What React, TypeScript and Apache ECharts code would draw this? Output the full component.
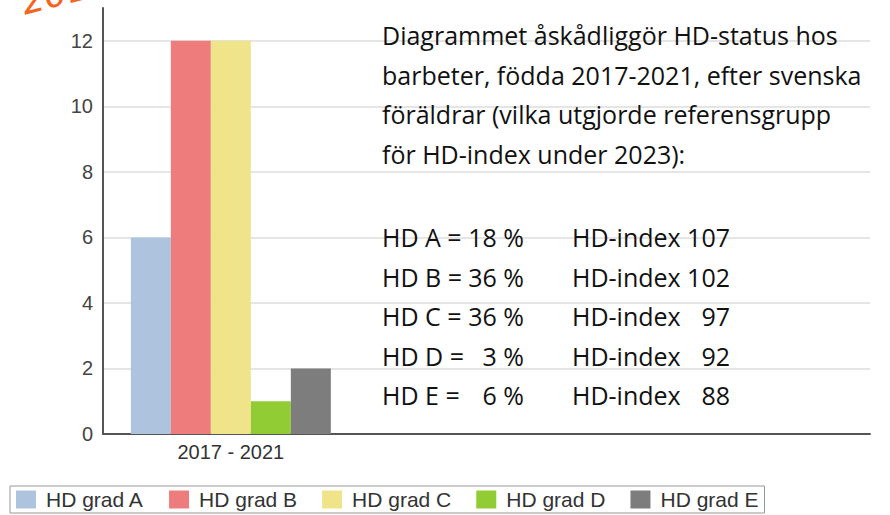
import React, { useEffect, useRef } from "react";
import * as echarts from "echarts";

const categories = ["2017 - 2021", "", ""];
const seriesNames = ["HD grad A", "HD grad B", "HD grad C", "HD grad D", "HD grad E"];
const seriesValues = [6, 12, 12, 1, 2];
const seriesColors = ["#aec3de", "#ee7c7c", "#f0e48a", "#92cc34", "#7d7d7d"];
const yTicks = { min: 0, max: 13, interval: 2 };

const descriptionLines = [
  "Diagrammet åskådliggör HD-status hos",
  "barbeter, födda 2017-2021, efter svenska",
  "föräldrar (vilka utgjorde referensgrupp",
  "för HD-index under 2023):",
];
const gradeLabels = ["HD A =", "HD B =", "HD C =", "HD D =", "HD E ="];
const gradePercents = ["18 %", "36 %", "36 %", "3 %", "6 %"];
const indexLabel = "HD-index";
const indexValues = ["107", "102", "97", "92", "88"];

export default function App() {
  const ref = useRef<HTMLDivElement>(null);
  useEffect(() => {
    if (!ref.current) return;
    const chart = echarts.init(ref.current, null, { renderer: "svg" });
    const textFont = "'Open Sans', sans-serif";
    const fs = 25;
    const font = `${fs}px ${textFont}`;
    const graphics: any[] = [];
    descriptionLines.forEach((t, i) => {
      graphics.push({
        type: "text",
        x: 382,
        y: 35 + i * 39.5,
        z: 10,
        style: { text: t, fill: "#111", font, verticalAlign: "middle" },
      });
    });
    gradeLabels.forEach((t, i) => {
      const y = 237 + i * 39.5;
      graphics.push({
        type: "text",
        x: 382,
        y,
        z: 10,
        style: { text: t, fill: "#111", font, verticalAlign: "middle", align: "left" },
      });
      graphics.push({
        type: "text",
        x: 524,
        y,
        z: 10,
        style: { text: gradePercents[i], fill: "#111", font, verticalAlign: "middle", align: "right" },
      });
      graphics.push({
        type: "text",
        x: 572,
        y,
        z: 10,
        style: { text: indexLabel, fill: "#111", font, verticalAlign: "middle", align: "left" },
      });
      graphics.push({
        type: "text",
        x: 730,
        y,
        z: 10,
        style: { text: indexValues[i], fill: "#111", font, verticalAlign: "middle", align: "right" },
      });
    });
    graphics.push({
      type: "text",
      x: 26,
      y: 20,
      rotation: 0.25,
      z: 10,
      style: {
        text: "2017",
        fill: "#f4641e",
        font: "italic 36px 'DejaVu Sans', sans-serif",
        verticalAlign: "bottom",
      },
    });

    chart.setOption({
      animation: false,
      backgroundColor: "#ffffff",
      grid: { left: 103, right: 20, top: 8, bottom: 515 - 434 },
      xAxis: {
        type: "category",
        data: categories,
        axisLine: { show: true, lineStyle: { color: "#555", width: 2 } },
        axisTick: { show: false },
        axisLabel: { color: "#333", fontSize: 20, fontFamily: "'Liberation Sans', Arial, sans-serif", margin: 8 },
      },
      yAxis: {
        type: "value",
        min: yTicks.min,
        max: yTicks.max,
        interval: yTicks.interval,
        axisLine: { show: true, lineStyle: { color: "#555", width: 2 } },
        axisTick: { show: false },
        axisLabel: {
          color: "#444",
          fontSize: 20,
          fontFamily: "'Liberation Sans', Arial, sans-serif",
          margin: 10,
          showMaxLabel: false,
        },
        splitLine: { show: true, showMaxLine: false, showMinLine: false, lineStyle: { color: "#dcdcdc", width: 1.5 } },
      },
      legend: {
        left: 10,
        top: 486,
        orient: "horizontal",
        data: seriesNames,
        icon: "rect",
        itemWidth: 20,
        itemHeight: 18,
        itemGap: 25,
        padding: [3, 6, 3, 6],
        borderColor: "#999",
        borderWidth: 1,
        backgroundColor: "#fff",
        textStyle: { color: "#333", fontSize: 21, fontFamily: "'Liberation Sans', Arial, sans-serif", padding: [0, 0, 0, 5] },
      },
      series: seriesNames.map((name, i) => ({
        name,
        type: "bar",
        data: [seriesValues[i]],
        barWidth: 40,
        barGap: "0%",
        itemStyle: { color: seriesColors[i] },
      })),
      graphic: graphics,
    });
    return () => chart.dispose();
  }, []);
  return <div ref={ref} style={{ width: 890, height: 515, position: "absolute", left: 0, top: 0 }} />;
}
